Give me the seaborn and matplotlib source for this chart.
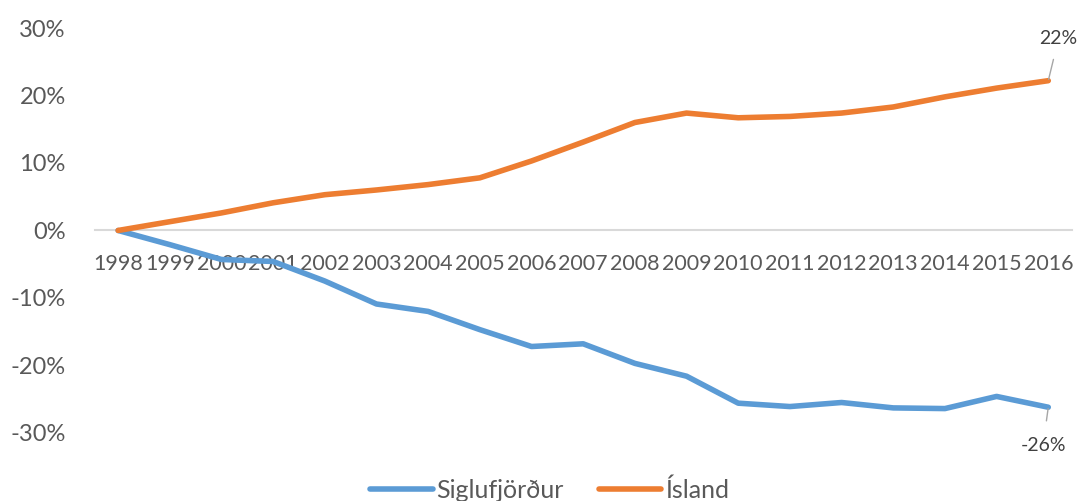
import pandas as pd
import seaborn as sns
import matplotlib.pyplot as plt
from matplotlib.ticker import FuncFormatter

# Population change relative to 1998 (%)
years = list(range(1998, 2017))
siglufjordur = [0.0, -2.1, -4.3, -4.6, -7.5, -10.9, -12.0, -14.7, -17.2, -16.8,
                -19.7, -21.6, -25.6, -26.1, -25.5, -26.3, -26.4, -24.6, -26.2]
island = [0.0, 1.3, 2.6, 4.1, 5.3, 6.0, 6.8, 7.8, 10.3, 13.1,
          16.0, 17.4, 16.7, 16.9, 17.4, 18.3, 19.8, 21.1, 22.2]
series_names = ['Siglufjörður', 'Ísland']
colors = {'Siglufjörður': '#5B9BD5', 'Ísland': '#ED7D31'}

df = pd.concat([pd.DataFrame({'year': years, 'change': siglufjordur, 'series': series_names[0]}),
                pd.DataFrame({'year': years, 'change': island, 'series': series_names[1]})],
               ignore_index=True)

sns.set_style('white')
plt.rcParams['font.family'] = ['Liberation Sans Narrow', 'Lato', 'DejaVu Sans']
text_col = '#595959'

fig = plt.figure(figsize=(10.78, 5.01), dpi=100)
ax = fig.add_axes([0.088, 0.136, 0.906, 0.808])
sns.lineplot(data=df, x='year', y='change', hue='series', hue_order=series_names,
             palette=colors, linewidth=4, ax=ax, legend=False)
ax.lines[0].set_solid_capstyle('round')
ax.lines[1].set_solid_capstyle('round')

ax.set_xlim(1997.55, 2016.45)
ax.set_ylim(-30, 30)
ax.set_yticks([-30, -20, -10, 0, 10, 20, 30])
ax.yaxis.set_major_formatter(FuncFormatter(lambda v, p: f'{v:.0f}%'))
ax.set_xticks(years)
ax.set_xlabel('')
ax.set_ylabel('')
for s in ['top', 'right', 'left']:
    ax.spines[s].set_visible(False)
ax.spines['bottom'].set_position(('data', 0))
ax.spines['bottom'].set_color('#D9D9D9')
ax.spines['bottom'].set_linewidth(1.5)
ax.spines['bottom'].set_zorder(0)
ax.tick_params(axis='y', length=0, pad=21, labelsize=17, labelcolor=text_col)
ax.tick_params(axis='x', length=0, pad=17, labelsize=15.5, labelcolor=text_col)

# end-value labels with leader lines
ax.annotate(f'{island[-1]:.0f}%', xy=(years[-1], island[-1]), xytext=(years[-1] + 0.2, 28.5),
            ha='center', va='center', fontsize=14, color='#404040',
            arrowprops=dict(arrowstyle='-', color='#A6A6A6', lw=1, shrinkA=7, shrinkB=1))
ax.annotate(f'{siglufjordur[-1]:.0f}%', xy=(years[-1], siglufjordur[-1]), xytext=(years[-1] - 0.1, -31.8),
            ha='center', va='center', fontsize=14, color='#404040', annotation_clip=False,
            arrowprops=dict(arrowstyle='-', color='#A6A6A6', lw=1, shrinkA=9, shrinkB=1))

handles = [plt.Line2D([], [], color=colors[n], lw=4) for n in series_names]
fig.legend(handles, series_names, loc='center', bbox_to_anchor=(0.51, 0.022), ncol=2,
           frameon=False, fontsize=18, handlelength=2.5, handletextpad=0.15,
           columnspacing=1.4, labelcolor=text_col)

fig.savefig('out.png', dpi=100)
